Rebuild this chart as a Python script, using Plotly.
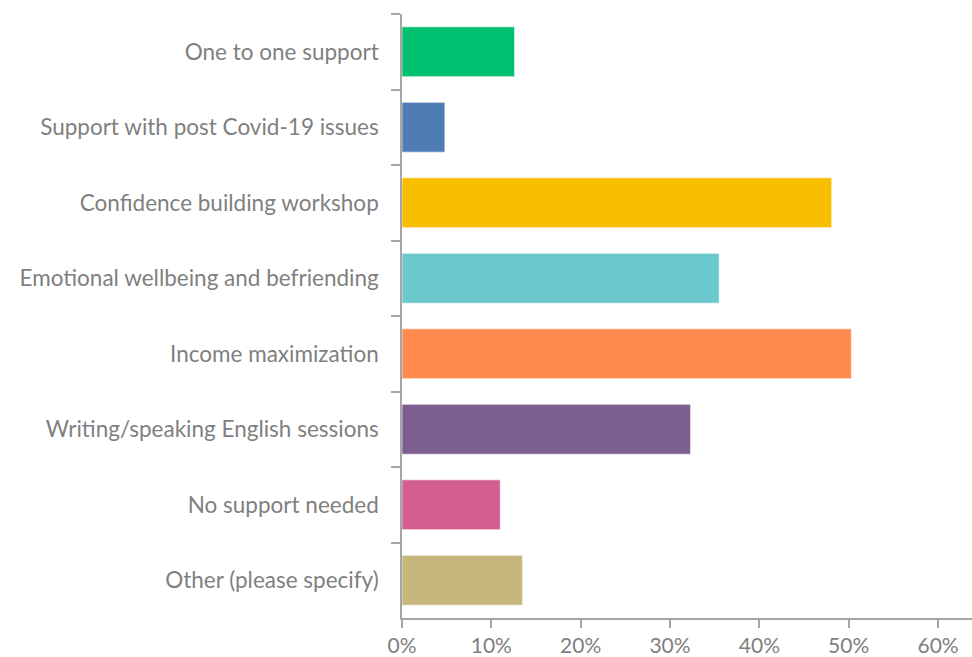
import plotly.graph_objects as go

categories = [
    "One to one support",
    "Support with post Covid-19 issues",
    "Confidence building workshop",
    "Emotional wellbeing and befriending",
    "Income maximization",
    "Writing/speaking English sessions",
    "No support needed",
    "Other (please specify)",
]
values = [0.126, 0.048, 0.481, 0.355, 0.503, 0.323, 0.110, 0.135]
colors = ["#00BF6F", "#507CB6", "#F9BE00", "#6BC8CD", "#FF8B4F", "#7D5E90", "#D25F90", "#C8B77D"]
x_ticks = [0, 0.1, 0.2, 0.3, 0.4, 0.5, 0.6]
x_tick_labels = ["0%", "10%", "20%", "30%", "40%", "50%", "60%"]

fig = go.Figure(go.Bar(
    x=values, y=categories, orientation="h",
    marker=dict(color=colors, line=dict(color="rgba(255,255,255,0.6)", width=1)),
    hoverinfo="x+y",
))

axis_gray = "#A6A6A6"
text_gray = "#7F7F7F"
fig.update_layout(
    width=972, height=657,
    margin=dict(l=402, r=0, t=14, b=39, autoexpand=False),
    paper_bgcolor="white", plot_bgcolor="white",
    bargap=0.34,
    showlegend=False,
    font=dict(family="Lato, Open Sans, sans-serif", size=22, color=text_gray),
)
fig.update_xaxes(
    range=[0, 0.638], tickvals=x_ticks, ticktext=x_tick_labels,
    showgrid=False, zeroline=False, showline=True, linecolor=axis_gray, linewidth=1.5,
    ticks="outside", ticklen=8, tickcolor=axis_gray, tickwidth=1.5,
    ticklabelstandoff=0,
    tickfont=dict(size=21, color=text_gray),
)
fig.update_yaxes(
    type="category", autorange="reversed", categoryorder="array", categoryarray=categories,
    showgrid=False, zeroline=False, showline=True, linecolor=axis_gray, linewidth=1.5,
    ticks="outside", ticklen=9, tickcolor=axis_gray, tickwidth=1.5, tickson="boundaries",
    ticklabelstandoff=17,
    tickfont=dict(size=22.5, color=text_gray),
)

fig.write_html(
    "out.html",
    config={"displayModeBar": False},
    post_script="document.body.style.margin='0';document.body.style.overflow='hidden';",
)
